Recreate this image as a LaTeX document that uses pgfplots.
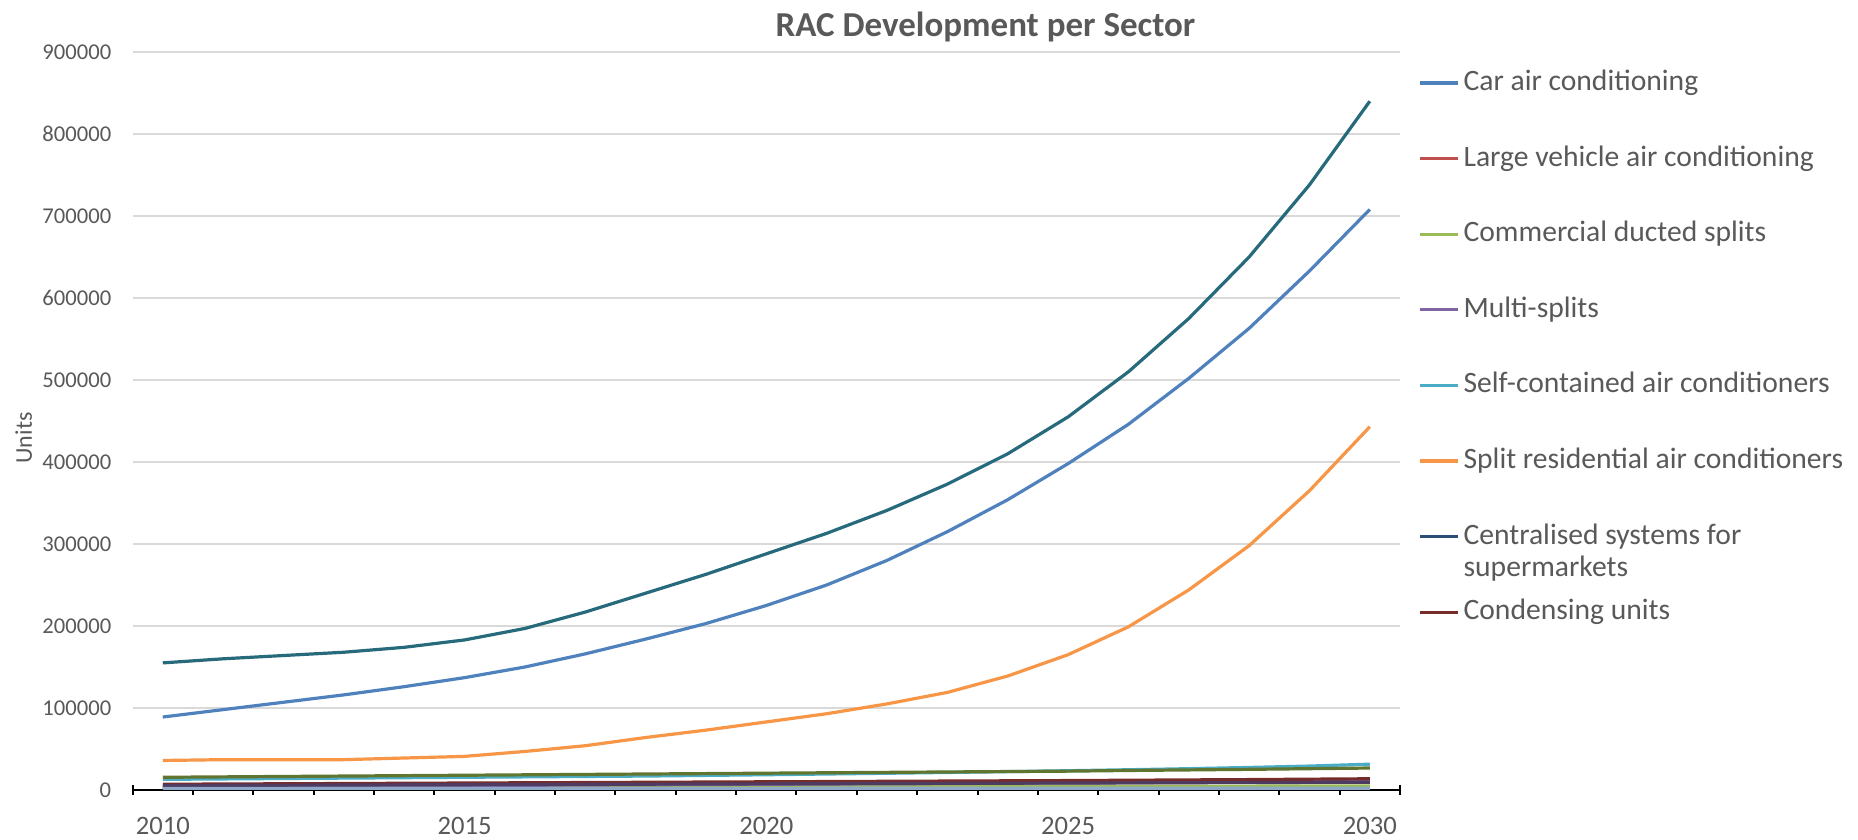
\documentclass[border=0pt]{standalone}
\usepackage{fontspec}
\setmainfont{Carlito}
\usepackage{pgfplots}
\pgfplotsset{compat=1.18}
\definecolor{cA}{HTML}{4F81BD}
\definecolor{cB}{HTML}{C0504D}
\definecolor{cC}{HTML}{9BBB59}
\definecolor{cD}{HTML}{8064A2}
\definecolor{cE}{HTML}{4BACC6}
\definecolor{cF}{HTML}{F79646}
\definecolor{cG}{HTML}{2C4D75}
\definecolor{cH}{HTML}{772C2A}
\definecolor{cI}{HTML}{5F7530}
\definecolor{cJ}{HTML}{4D3B62}
\definecolor{cK}{HTML}{276A7C}
\definecolor{cL}{HTML}{B65708}
\definecolor{cM}{HTML}{8EA9C8}
\definecolor{txt}{HTML}{595959}
\definecolor{grd}{HTML}{D9D9D9}
\begin{document}
\begin{tikzpicture}
\path[use as bounding box] (-66.3bp,-25bp) rectangle (862.7bp,395bp);
\begin{axis}[
  at={(0,0)}, anchor=south west,
  scale only axis, width=633.7bp, height=369bp,
  xmin=2009.5, xmax=2030.5, ymin=0, ymax=900000,
  xtick={2010,2015,2020,2025,2030},
  minor xtick={2009.5,2010.5,...,2030.5},
  ytick={0,100000,...,900000},
  major tick length=0bp, minor tick length=4.7bp, tick align=outside,
  axis lines=left,
  x axis line style={-, black, line width=1bp},
  y axis line style={draw=none},
  tick style={black, line width=1bp},
  ymajorgrids, grid style={color=grd, line width=0.6bp},
  scaled y ticks=false,
  /pgf/number format/assume math mode=true,
  /pgf/number format/1000 sep={},
  /pgf/number format/fixed,
  ticklabel style={text=txt},
  xticklabel style={font=\fontsize{13.3bp}{15bp}\selectfont, inner sep=0pt, yshift=-13.5bp},
  yticklabel style={font=\fontsize{11.3bp}{13bp}\selectfont, inner sep=0pt, xshift=-10.5bp},
  ylabel={Units},
  ylabel style={at={(axis description cs:-0.086,0.477)}, anchor=center, font=\fontsize{12bp}{14bp}\selectfont, text=txt},
  title={RAC Development per Sector},
  every axis title shift=0pt,
  title style={at={(axis description cs:0.673,1.034)}, anchor=center, yshift=0pt, font=\bfseries\fontsize{17.5bp}{20bp}\selectfont, text=txt},
  legend style={at={(axis description cs:1,1)}, anchor=north west, xshift=9bp, yshift=-8bp,
    draw=none, fill=none, inner sep=0pt, row sep=23.3bp, column sep=2bp,
    font=\fontsize{14.8bp}{16bp}\selectfont, text=txt,
    nodes={inner sep=0pt, text height=11bp, text depth=3.5bp}},
  legend cell align=left,
  legend image code/.code={\draw[#1] (0bp,0bp) -- (19bp,0bp);},
  every axis plot/.append style={line width=1.6bp, mark=none},
]
\addplot[cA] coordinates {(2010,89000)(2011,98000)(2012,107000)(2013,116000)(2014,126000)(2015,137000)(2016,150000)(2017,166000)(2018,184000)(2019,203000)(2020,225000)(2021,250000)(2022,280000)(2023,315000)(2024,354000)(2025,398000)(2026,446000)(2027,502000)(2028,563000)(2029,633000)(2030,708000)};
\addlegendentry{Car air conditioning}
\addplot[cB] coordinates {(2010,2500)(2011,2550)(2012,2600)(2013,2650)(2014,2700)(2015,2750)(2016,2800)(2017,2850)(2018,2900)(2019,2950)(2020,3000)(2021,3050)(2022,3100)(2023,3150)(2024,3200)(2025,3250)(2026,3300)(2027,3350)(2028,3400)(2029,3450)(2030,3500)};
\addlegendentry{Large vehicle air conditioning}
\addplot[cC] coordinates {(2010,3500)(2011,3600)(2012,3700)(2013,3800)(2014,3900)(2015,4000)(2016,4100)(2017,4200)(2018,4250)(2019,4300)(2020,4350)(2021,4400)(2022,4450)(2023,4500)(2024,4550)(2025,4600)(2026,4650)(2027,4700)(2028,4750)(2029,4800)(2030,4900)};
\addlegendentry{Commercial ducted splits}
\addplot[cD] coordinates {(2010,4000)(2011,4300)(2012,4600)(2013,4900)(2014,5200)(2015,5500)(2016,5800)(2017,6100)(2018,6400)(2019,6700)(2020,7000)(2021,7300)(2022,7600)(2023,7900)(2024,8200)(2025,8500)(2026,8800)(2027,9200)(2028,9600)(2029,10000)(2030,10500)};
\addlegendentry{Multi-splits}
\addplot[cE] coordinates {(2010,13000)(2011,13500)(2012,14000)(2013,14500)(2014,15000)(2015,15500)(2016,16000)(2017,16500)(2018,17000)(2019,17800)(2020,18600)(2021,19500)(2022,20400)(2023,21400)(2024,22400)(2025,23500)(2026,24700)(2027,26000)(2028,27500)(2029,29200)(2030,31500)};
\addlegendentry{Self-contained air conditioners}
\addplot[cF] coordinates {(2010,36000)(2011,37000)(2012,37000)(2013,37000)(2014,39000)(2015,41000)(2016,47000)(2017,54000)(2018,64000)(2019,73000)(2020,83000)(2021,93000)(2022,105000)(2023,119000)(2024,139000)(2025,165000)(2026,199000)(2027,244000)(2028,298000)(2029,365000)(2030,443000)};
\addlegendentry{Split residential air conditioners}
\addplot[cG] coordinates {(2010,1000)(2011,1030)(2012,1060)(2013,1090)(2014,1120)(2015,1150)(2016,1180)(2017,1210)(2018,1240)(2019,1270)(2020,1300)(2021,1320)(2022,1340)(2023,1360)(2024,1380)(2025,1400)(2026,1420)(2027,1440)(2028,1460)(2029,1480)(2030,1500)};
\addlegendentry{\raisebox{0pt}[\height][0pt]{\begin{tabular}[t]{@{}l@{}}Centralised systems for\\supermarkets\end{tabular}}}
\addplot[cH] coordinates {(2010,7000)(2011,7300)(2012,7600)(2013,7900)(2014,8200)(2015,8500)(2016,8800)(2017,9100)(2018,9400)(2019,9700)(2020,10000)(2021,10300)(2022,10600)(2023,10900)(2024,11200)(2025,11500)(2026,11900)(2027,12300)(2028,12700)(2029,13200)(2030,13700)};
\addlegendentry{Condensing units}
\addplot[cI, forget plot] coordinates {(2010,15500)(2011,16000)(2012,16500)(2013,17000)(2014,17500)(2015,18000)(2016,18500)(2017,19000)(2018,19500)(2019,20000)(2020,20500)(2021,21000)(2022,21500)(2023,22000)(2024,22500)(2025,23000)(2026,23800)(2027,24500)(2028,25200)(2029,26000)(2030,26800)};
\addplot[cJ, forget plot] coordinates {(2010,5500)(2011,5700)(2012,5900)(2013,6100)(2014,6300)(2015,6500)(2016,6700)(2017,6900)(2018,7100)(2019,7300)(2020,7500)(2021,7700)(2022,7900)(2023,8100)(2024,8300)(2025,8500)(2026,8700)(2027,8900)(2028,9100)(2029,9300)(2030,9500)};
\addplot[cK, forget plot] coordinates {(2010,155000)(2011,160000)(2012,164000)(2013,168000)(2014,174000)(2015,183000)(2016,197000)(2017,217000)(2018,240000)(2019,263000)(2020,288000)(2021,313000)(2022,341000)(2023,373000)(2024,410000)(2025,455000)(2026,510000)(2027,575000)(2028,650000)(2029,738000)(2030,840000)};
\addplot[cL, forget plot] coordinates {(2010,600)(2011,620)(2012,640)(2013,660)(2014,680)(2015,700)(2016,720)(2017,740)(2018,760)(2019,780)(2020,800)(2021,820)(2022,840)(2023,860)(2024,880)(2025,900)(2026,920)(2027,940)(2028,960)(2029,980)(2030,1000)};
\addplot[cM, forget plot] coordinates {(2010,1800)(2011,1820)(2012,1840)(2013,1860)(2014,1880)(2015,1900)(2016,1920)(2017,1940)(2018,1960)(2019,1980)(2020,2000)(2021,2020)(2022,2040)(2023,2060)(2024,2080)(2025,2100)(2026,2120)(2027,2140)(2028,2160)(2029,2180)(2030,2200)};
\end{axis}
\end{tikzpicture}
\end{document}
